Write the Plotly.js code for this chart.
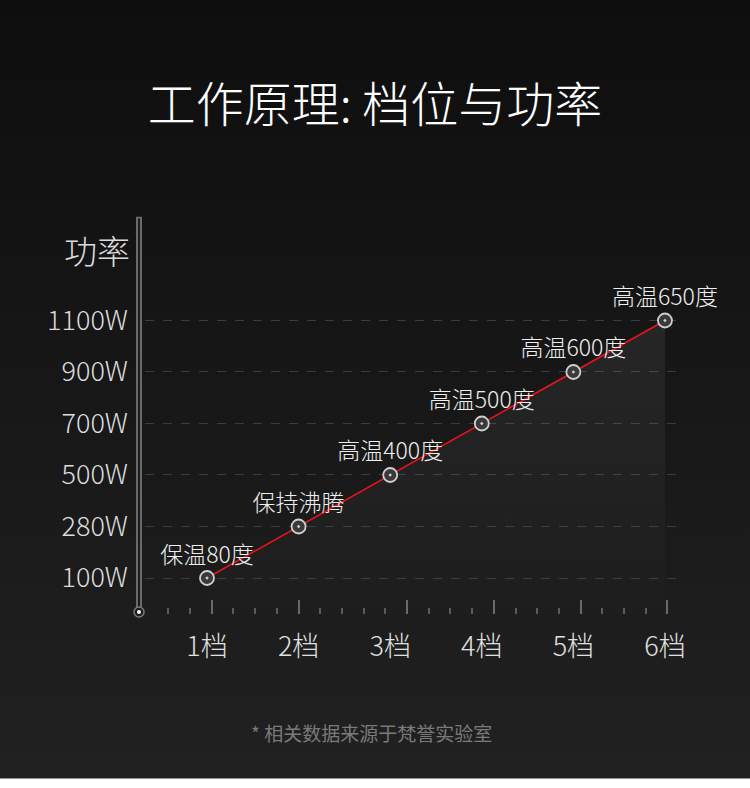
<!DOCTYPE html>
<html>
<head>
<meta charset="utf-8">
<script src="https://cdn.plot.ly/plotly-3.0.1.min.js"></script>
<style>
	html, body {
		margin: 0;
		padding: 0;
		width: 750px;
		height: 788px;
		background: linear-gradient(to bottom, #0e0e0e 0px, #151515 300px, #212121 778px, #ffffff 779px);
	}
	#power-graph { width: 750px; height: 788px; }
</style>
</head>
<body>
<div id="power-graph"></div>
<script>
'use strict';

// gears on the x axis
var gears = ['1档', '2档', '3档', '4档', '5档', '6档'];
// power levels, drawn evenly spaced on the y axis
var powerLabels = ['100W', '280W', '500W', '700W', '900W', '1100W'];
// which power level each gear reaches (1 = 100W ... 6 = 1100W)
var powerLevel = [1, 2, 3, 4, 5, 6];
// text shown above each point
var pointLabels = ['保温80度', '保持沸腾', '高温400度', '高温500度', '高温600度', '高温650度'];
// decorative ruler under the chart: short ticks, long ticks
var rulerMinor = [0, 1, 3, 4, 5, 7, 8, 9, 10, 12, 13, 14, 16, 17, 18, 20, 21, 22];
var rulerMajor = [2, 6, 11, 15, 19, 23];

const createPowerGraph = function () {
	var font = 'Noto Sans CJK SC, Noto Sans, sans-serif';

	var layout = {
		width: 750,
		height: 788,
		margin: { l: 145, r: 68, t: 220, b: 174, pad: 0 },
		paper_bgcolor: 'transparent',
		plot_bgcolor: 'transparent',
		showlegend: false,
		dragmode: false,
		font: { family: font, color: '#dcdcdc' },
		title: {
			text: '工作原理: 档位与功率',
			font: { family: font, size: 48, color: '#ffffff', weight: 300 },
			x: 0.5,
			xanchor: 'center',
			xref: 'container',
			yref: 'container',
			y: 0.867,
			yanchor: 'middle',
		},
		xaxis: {
			type: 'category',
			range: [-0.677, 5.186],
			showgrid: false,
			zeroline: false,
			showline: false,
			ticks: '',
			ticklabelstandoff: 14,
			tickfont: { size: 27, color: '#e0e0e0', weight: 300 },
		},
		// ruler ticks only, no labels
		xaxis2: {
			overlaying: 'x',
			anchor: 'y',
			range: [-1.074, 23.67],
			showgrid: false,
			zeroline: false,
			showline: false,
			showticklabels: false,
			tickmode: 'array',
			tickvals: rulerMajor,
			ticks: 'inside',
			ticklen: 14,
			tickwidth: 2,
			tickcolor: '#6a6a6a',
			minor: {
				tickmode: 'array',
				tickvals: rulerMinor,
				ticks: 'inside',
				ticklen: 6,
				tickwidth: 2,
				tickcolor: '#5a5a5a',
			},
		},
		yaxis: {
			range: [0.301, 7.951],
			tickmode: 'array',
			tickvals: powerLevel,
			ticktext: powerLabels,
			showgrid: true,
			gridcolor: '#3c3c3c',
			griddash: 'dash',
			gridwidth: 1,
			zeroline: false,
			showline: false,
			ticks: '',
			ticklabelstandoff: 16,
			tickfont: { size: 27, color: '#dcdcdc', weight: 300 },
		},
		annotations: [
			{
				text: '功率',
				xref: 'paper',
				yref: 'paper',
				x: -0.089,
				y: 0.924,
				xanchor: 'center',
				yanchor: 'middle',
				showarrow: false,
				font: { family: font, size: 33, color: '#dcdcdc', weight: 300 },
			},
			{
				text: '* 相关数据来源于梵誉实验室',
				xref: 'paper',
				yref: 'paper',
				x: 0.421,
				y: -0.302,
				xanchor: 'center',
				yanchor: 'middle',
				showarrow: false,
				font: { family: font, size: 19, color: '#7a7a7a' },
			},
		],
		shapes: [
			// thermometer tube on the left
			{
				type: 'line',
				xref: 'paper', yref: 'paper',
				xsizemode: 'pixel', xanchor: 0,
				x0: -6, x1: -6, y0: 0.0, y1: 1.008,
				line: { color: '#6a6a6a', width: 6 },
				layer: 'below',
			},
			{
				type: 'line',
				xref: 'paper', yref: 'paper',
				xsizemode: 'pixel', xanchor: 0,
				x0: -6, x1: -6, y0: 0.0, y1: 1.004,
				line: { color: '#1c1c1c', width: 2 },
				layer: 'below',
			},
			// bulb at the bottom of the tube
			{
				type: 'circle',
				xref: 'paper', yref: 'paper',
				xsizemode: 'pixel', ysizemode: 'pixel',
				xanchor: 0, yanchor: 0,
				x0: -11, x1: -1, y0: -3, y1: 7,
				fillcolor: '#1c1c1c',
				line: { color: '#7a7a7a', width: 1.5 },
			},
			{
				type: 'circle',
				xref: 'paper', yref: 'paper',
				xsizemode: 'pixel', ysizemode: 'pixel',
				xanchor: 0, yanchor: 0,
				x0: -8, x1: -4, y0: 0, y1: 4,
				fillcolor: '#ffffff',
				line: { width: 0 },
			},
		],
	};

	var traces = [
		{
			x: gears,
			y: powerLevel,
			type: 'scatter',
			mode: 'lines+markers+text',
			fill: 'tozeroy',
			fillgradient: {
				type: 'vertical',
				colorscale: [
					[0, 'rgba(255,255,255,0.0)'],
					[1, 'rgba(255,255,255,0.07)'],
				],
			},
			line: { color: '#e8141b', width: 1.6 },
			marker: {
				symbol: 'circle-dot',
				size: 14,
				color: '#3a3a3a',
				line: { color: '#d0d0d0', width: 1.8 },
			},
			text: pointLabels,
			textposition: 'top center',
			textfont: { family: font, size: 23, color: '#eeeeee', weight: 300 },
			hoverinfo: 'none',
			cliponaxis: false,
		},
		{
			// empty trace so the ruler axis gets drawn
			x: [],
			y: [],
			xaxis: 'x2',
			yaxis: 'y',
			type: 'scatter',
			hoverinfo: 'none',
		},
	];

	var config = { staticPlot: true, displayModeBar: false };
	Plotly.newPlot('power-graph', traces, layout, config);
};

document.addEventListener('DOMContentLoaded', createPowerGraph);
</script>
</body>
</html>
